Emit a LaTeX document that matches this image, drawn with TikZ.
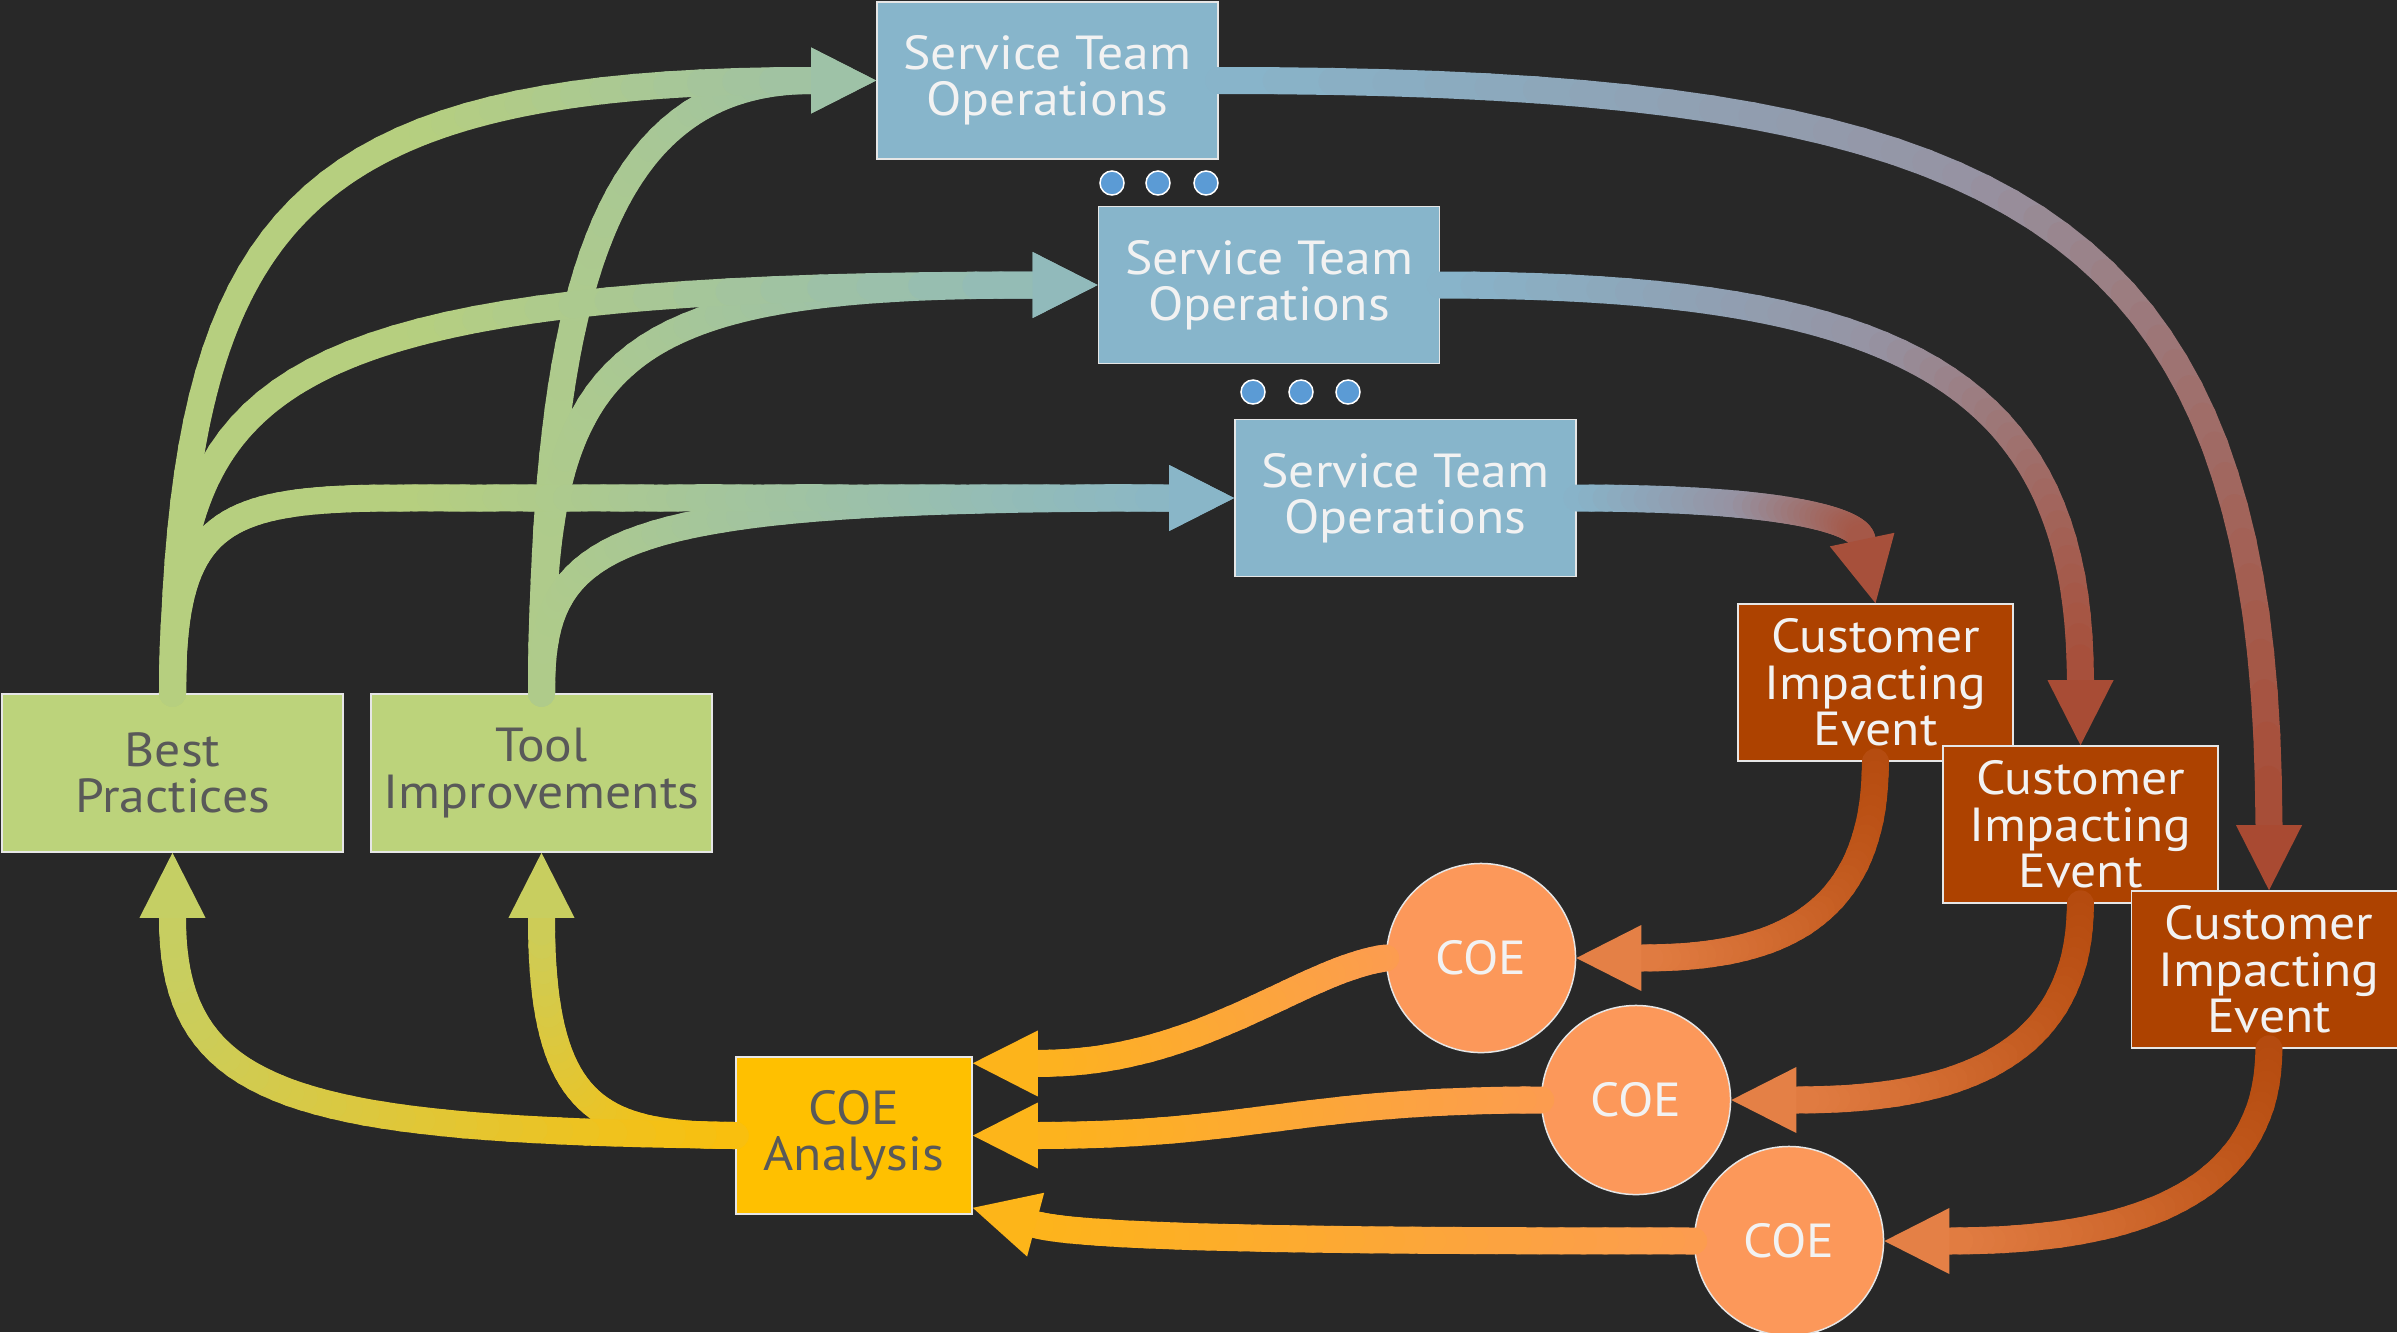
\documentclass[tikz,border=0pt]{standalone}
\usepackage{fontspec}
\setmainfont[FakeStretch=1.08]{PT Sans}
\usetikzlibrary{calc}

\definecolor{canvas}{HTML}{282828}
\definecolor{opsfill}{HTML}{87B5CB}
\definecolor{learnfill}{HTML}{BCD37B}
\definecolor{eventfill}{HTML}{AD4200}
\definecolor{coefill}{HTML}{FC985A}
\definecolor{anafill}{HTML}{FFC000}
\definecolor{dotfill}{HTML}{5B9BD5}
\definecolor{edge}{HTML}{E6E6E6}
\definecolor{lighttext}{HTML}{F2F2F2}
\definecolor{darktext}{HTML}{595959}
% colours of the flow ribbons
\definecolor{flowgreen}{HTML}{B6CF7F}
\definecolor{flowblue}{HTML}{87B5CB}
\definecolor{flowlav}{HTML}{9693A3}
\definecolor{flowred}{HTML}{A9482F}
\definecolor{flowrust}{HTML}{B54B0F}
\definecolor{flowcoral}{HTML}{E8844A}
\definecolor{flowpeach}{HTML}{FC9C50}
\definecolor{flowamber}{HTML}{FDB617}
\definecolor{flowgold}{HTML}{FABF0C}
\definecolor{flowlime}{HTML}{C4CF66}

% ribbon geometry
\newcommand\flowsteps{40}
\newcommand\flowhl{0.65cm}
\newcommand\flowhw{0.33cm}

% point -> two plain numbers (pt)
\newcommand\getpt[3]{\path #1; \pgfgetlastxy{#2}{#3}\pgfmathsetmacro#2{#2}\pgfmathsetmacro#3{#3}}

% gradient axis: start, end, colour at start, middle, end
\newcommand\setflow[5]{%
  \getpt{#1}{\fgax}{\fgay}\getpt{#2}{\fgbx}{\fgby}%
  \pgfmathsetmacro\fglen{veclen((\fgbx)-(\fgax),(\fgby)-(\fgay))}%
  \pgfmathsetmacro\fgux{((\fgbx)-(\fgax))/\fglen}%
  \pgfmathsetmacro\fguy{((\fgby)-(\fgay))/\fglen}%
  \colorlet{flowA}{#3}\colorlet{flowM}{#4}\colorlet{flowB}{#5}}

% colour of the ribbon at a point (pt numbers)
\newcommand\flowmix[2]{%
  \pgfmathsetmacro\fmix{max(0,min(100,100*((((#1)-(\fgax))*(\fgux)+((#2)-(\fgay))*(\fguy))/\fglen)))}%
  \ifdim\fmix pt<50pt
    \pgfmathsetmacro\fmixb{2*\fmix}\colorlet{flowcur}{flowM!\fmixb!flowA}%
  \else
    \pgfmathsetmacro\fmixb{2*\fmix-100}\colorlet{flowcur}{flowB!\fmixb!flowM}%
  \fi}

% point of the current cubic at parameter #1
\newcommand\bezpt[1]{%
  \pgfmathsetmacro\fbx{(1-#1)^3*(\fpax)+3*(1-#1)^2*(#1)*(\fpbx)+3*(1-#1)*(#1)^2*(\fpcx)+(#1)^3*(\fpdx)}%
  \pgfmathsetmacro\fby{(1-#1)^3*(\fpay)+3*(1-#1)^2*(#1)*(\fpby)+3*(1-#1)*(#1)^2*(\fpcy)+(#1)^3*(\fpdy)}}

% one cubic piece of a ribbon, drawn in short shaded strokes
\newcommand\flowpiece[4]{%
  \getpt{#1}{\fpax}{\fpay}\getpt{#2}{\fpbx}{\fpby}%
  \getpt{#3}{\fpcx}{\fpcy}\getpt{#4}{\fpdx}{\fpdy}%
  \foreach \k in {1,...,\flowsteps}{%
    \pgfmathsetmacro\fta{(\k-1)/\flowsteps}%
    \pgfmathsetmacro\ftb{\k/\flowsteps}%
    \bezpt{\fta}\let\fxa\fbx\let\fya\fby
    \bezpt{\ftb}\let\fxb\fbx\let\fyb\fby
    \flowmix{((\fxa)+(\fxb))/2}{((\fya)+(\fyb))/2}%
    \draw[flowline,color=flowcur] (\fxa pt,\fya pt) -- (\fxb pt,\fyb pt);
  }}

% arrow head: tip, base centre
\newcommand\flowhead[2]{%
  \getpt{#1}{\fhx}{\fhy}\getpt{#2}{\fhbx}{\fhby}%
  \flowmix{((\fhx)+(\fhbx))/2}{((\fhy)+(\fhby))/2}%
  \fill[flowcur] #1 -- ($#2!\flowhw!90:#1$) -- ($#2!\flowhw!-90:#1$) -- cycle;}

% whole ribbon arrow: start, control, control, tip
\newcommand\flowarrow[4]{%
  \coordinate (flowbase) at ($#4!\flowhl!#3$);
  \flowpiece{#1}{#2}{#3}{(flowbase)}%
  \flowhead{#4}{(flowbase)}}

\begin{document}
\begin{tikzpicture}[x=0.01cm,y=-0.01cm,
  box/.style={draw=edge,line width=0.015cm,inner sep=0pt,align=center,
    font=\fontsize{13.6pt}{13.2pt}\selectfont},
  ops/.style={box,fill=opsfill,text=lighttext,minimum width=3.41cm,minimum height=1.57cm},
  learn/.style={box,fill=learnfill,text=darktext,minimum width=3.41cm,minimum height=1.58cm},
  event/.style={box,fill=eventfill,text=lighttext,minimum width=2.75cm,minimum height=1.57cm},
  coe/.style={box,circle,fill=coefill,text=lighttext,minimum size=1.89cm},
  analysis/.style={box,fill=anafill,text=darktext,minimum width=2.36cm,minimum height=1.57cm},
  more/.style={circle,draw=white,line width=0.015cm,fill=dotfill,inner sep=0pt,minimum size=0.24cm},
  flowline/.style={line width=0.27cm,line cap=round}]

\fill[canvas] (0,0) rectangle (2397,1332);
\useasboundingbox (0,0) rectangle (2397,1332);

% service teams
\node[ops] (sto1) at (1047.5,80.5) {Service Team\\Operations};
\node[ops] (sto2) at (1269,285) {Service Team\\Operations};
\node[ops] (sto3) at (1405.5,498) {Service Team\\Operations};
\foreach \i/\x in {1/1112,2/1158,3/1206} \node[more] (dA\i) at (\x,183) {};
\foreach \i/\x in {1/1253,2/1301,3/1348} \node[more] (dB\i) at (\x,392) {};

% learnings
\node[learn] (bp) at (172.5,773) {Best\\Practices};
\node[learn] (ti) at (541.5,773) {Tool\\Improvements};

% events, stacked
\node[event] (cie1) at (1875.5,682.5) {Customer\\Impacting\\Event};
\node[event] (cie2) at (2080.5,824.5) {Customer\\Impacting\\Event};
\node[event] (cie3) at (2269,969.5) {Customer\\Impacting\\Event};

% correction of errors
\node[coe] (coe1) at (1481,958) {COE};
\node[coe] (coe2) at (1636,1100) {COE};
\node[coe] (coe3) at (1789,1241) {COE};
\node[analysis] (ana) at (854,1135.5) {COE\\Analysis};
\coordinate (anaIn1) at ($(ana.north east)+(0,7)$);
\coordinate (anaIn3) at ($(ana.south east)+(0,-7)$);

% learnings feed the service teams
\setflow{(420,0)}{(1235,0)}{flowgreen}{flowgreen!50!flowblue}{flowblue}
\flowarrow{(ti.north)}{(545,300)}{(600,80.5)}{(sto1.west)}
\flowarrow{(ti.north)}{(541.5,360)}{(600,285)}{(sto2.west)}
\flowarrow{(ti.north)}{(541.5,540)}{(600,498)}{(sto3.west)}
\flowarrow{(bp.north)}{(180,220)}{(290,80.5)}{(sto1.west)}
\flowarrow{(bp.north)}{(172.5,380)}{(260,285)}{(sto2.west)}
\coordinate (flowbase) at ($(sto3.west)!\flowhl!(400,498)$);
\flowpiece{(bp.north)}{(172.5,520)}{(220,498)}{(400,498)}
\flowpiece{(400,498)}{(600,498)}{(900,498)}{(flowbase)}
\flowhead{(sto3.west)}{(flowbase)}

% operations lead to customer impacting events
\setflow{(sto1.east)}{(cie3.north)}{flowblue}{flowlav}{flowred}
\flowarrow{(sto1.east)}{(2000,80.5)}{(2269,200)}{(cie3.north)}
\setflow{(sto2.east)}{(cie2.north)}{flowblue}{flowlav}{flowred}
\flowarrow{(sto2.east)}{(1900,285)}{(2080.5,380)}{(cie2.north)}
\setflow{(sto3.east)}{(cie1.north)}{flowblue}{flowlav}{flowred}
\flowarrow{(sto3.east)}{(1780,498)}{(1858,520)}{(cie1.north)}

% events are written up as COEs
\setflow{(cie1.south)}{(coe1.east)}{flowrust}{flowrust!50!flowcoral}{flowcoral}
\flowarrow{(cie1.south)}{(1875.5,930)}{(1760,958)}{(coe1.east)}
\setflow{(cie2.south)}{(coe2.east)}{flowrust}{flowrust!50!flowcoral}{flowcoral}
\flowarrow{(cie2.south)}{(2080.5,1072)}{(1930,1100)}{(coe2.east)}
\setflow{(cie3.south)}{(coe3.east)}{flowrust}{flowrust!50!flowcoral}{flowcoral}
\flowarrow{(cie3.south)}{(2269,1215)}{(2090,1241)}{(coe3.east)}

% COEs are analysed together
\setflow{(coe1.west)}{(anaIn1)}{flowpeach}{flowpeach!50!flowamber}{flowamber}
\flowarrow{(coe1.west)}{(1300,970)}{(1200,1064)}{(anaIn1)}
\setflow{(coe2.west)}{(ana.east)}{flowpeach}{flowpeach!50!flowamber}{flowamber}
\flowarrow{(coe2.west)}{(1300,1100)}{(1250,1135.5)}{(ana.east)}
\setflow{(coe3.west)}{(anaIn3)}{flowpeach}{flowpeach!50!flowamber}{flowamber}
\flowarrow{(coe3.west)}{(1400,1241)}{(1093,1240)}{(anaIn3)}

% analysis produces best practices and tool improvements
\setflow{(ana.west)}{(ti.south)}{flowgold}{flowgold!50!flowlime}{flowlime}
\flowarrow{(ana.west)}{(600,1135.5)}{(541.5,1110)}{(ti.south)}
\setflow{(ana.west)}{(bp.south)}{flowgold}{flowgold!50!flowlime}{flowlime}
\flowarrow{(ana.west)}{(300,1130)}{(172.5,1100)}{(bp.south)}
\end{tikzpicture}
\end{document}
